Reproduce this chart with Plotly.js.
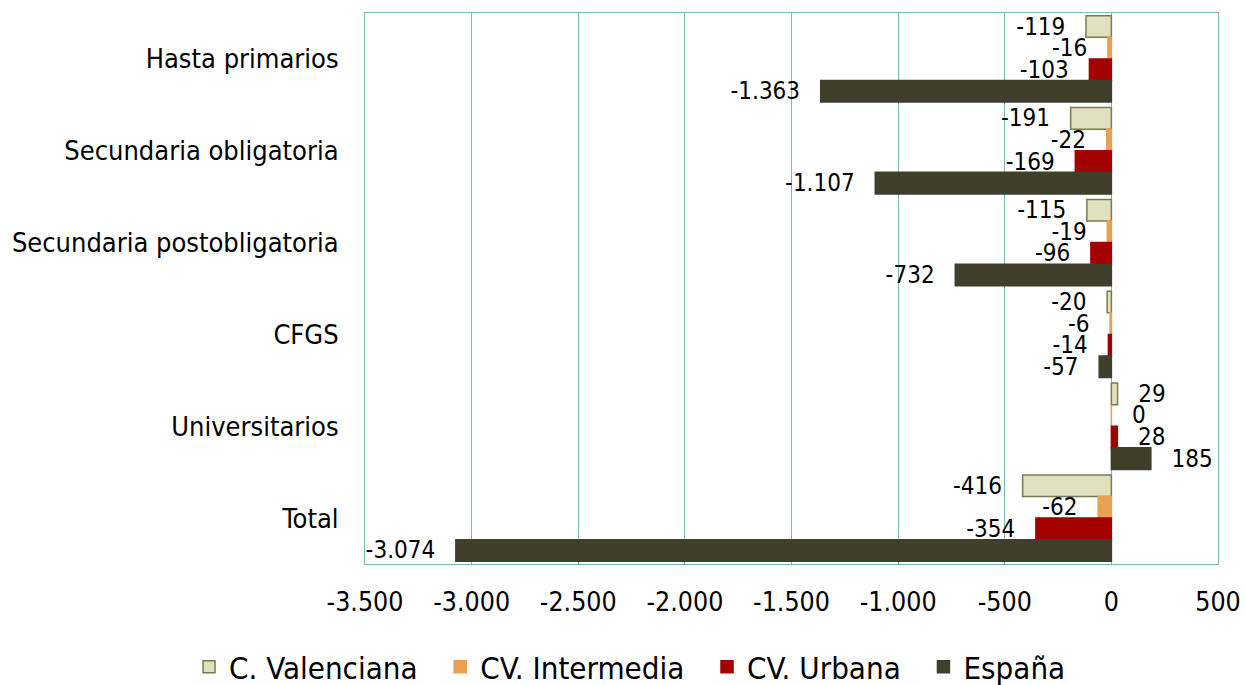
<!DOCTYPE html>
<html><head><meta charset="utf-8">
<script src="https://cdn.plot.ly/plotly-3.0.1.min.js"></script>
<style>html,body{margin:0;padding:0;background:#fff}</style>
</head><body>
<div id="chart" style="width:1246px;height:685px"></div>
<script>
const categories = ["Hasta primarios","Secundaria obligatoria","Secundaria postobligatoria","CFGS","Universitarios","Total"];
const seriesNames = ["C. Valenciana","CV. Intermedia","CV. Urbana","España"];
const cValenciana = [-119,-191,-115,-20,29,-416];
const cvIntermedia = [-16,-22,-19,-6,0,-62];
const cvUrbana = [-103,-169,-96,-14,28,-354];
const espana = [-1363,-1107,-732,-57,185,-3074];
const tickVals = [-3500,-3000,-2500,-2000,-1500,-1000,-500,0,500];
const tickText = ["-3.500","-3.000","-2.500","-2.000","-1.500","-1.000","-500","0","500"];

const PAD = "\u2002\u00a0";
const LEGPAD = "\u00a0\u00a0";
function fmt(v){
  const s = Math.abs(v).toString().replace(/\B(?=(\d{3})+(?!\d))/g, ".");
  return v < 0 ? "-" + s + PAD : PAD + s;
}
const FONT = "DejaVu Sans Condensed, DejaVu Sans, sans-serif";
function tr(name, vals, color, lineColor, last){
  return {
    type:"bar", orientation:"h", name: last ? name : name + LEGPAD,
    y:categories, x:vals,
    text:vals.map(fmt), textposition:"outside", constraintext:"none",
    cliponaxis:false,
    textfont:{family:FONT, size:24, color:"#000"},
    marker:{color:color, line:{color:lineColor, width:1.5}},
    hovertemplate:"%{y}: %{x}<extra>" + name + "</extra>"
  };
}
const data = [
  tr(seriesNames[0], cValenciana, "#e1e1bf", "#7a7a52", false),
  tr(seriesNames[1], cvIntermedia, "#e8a052", "#e8a052", false),
  tr(seriesNames[2], cvUrbana, "#a30000", "#a30000", false),
  tr(seriesNames[3], espana, "#3f3f2c", "#3f3f2c", true)
];
const layout = {
  width:1246, height:685,
  margin:{l:365, r:28, t:13, b:121, autoexpand:false},
  barmode:"group", bargap:0.06, bargroupgap:0,
  paper_bgcolor:"#fff", plot_bgcolor:"#fff",
  font:{family:FONT, size:26, color:"#000"},
  showlegend:true,
  legend:{orientation:"h", x:-0.2063, xanchor:"left", y:-0.187, yanchor:"middle",
          font:{family:FONT, size:31, color:"#000"}, traceorder:"normal"},
  xaxis:{range:[-3500,500], tickvals:tickVals, ticktext:tickText, automargin:false,
         showgrid:true, gridcolor:"#7fb6b8", gridwidth:1,
         zeroline:true, zerolinecolor:"#7fb6b8", zerolinewidth:1,
         showline:true, linecolor:"#7fb6b8", mirror:true,
         ticks:"", ticklabelstandoff:14, tickfont:{family:FONT, size:26.5}},
  yaxis:{autorange:"reversed", showgrid:false, showline:true, linecolor:"#7fb6b8", mirror:true,
         automargin:false,
         ticks:"", ticklabelstandoff:20, tickfont:{family:FONT, size:27}}
};
Plotly.newPlot("chart", data, layout, {displayModeBar:false});
</script>
</body></html>
